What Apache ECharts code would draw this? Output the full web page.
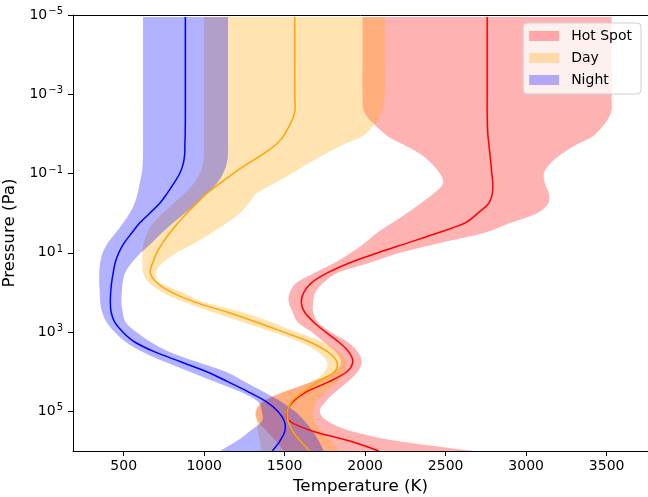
<!DOCTYPE html>
<html><head><meta charset="utf-8">
<script src="https://cdn.jsdelivr.net/npm/echarts@6/dist/echarts.min.js"></script>
<style>html,body{margin:0;padding:0;background:#fff}#c{width:648px;height:497px}</style>
</head><body><div id="c"></div>
<script>
// log10 of pressure (Pa)
const logP = [-4.95,-4,-3,-2.5,-2,-1.75,-1.5,-1.25,-1,-0.75,-0.5,-0.25,0,0.25,0.5,0.75,1,1.25,1.5,1.75,2,2.25,2.5,2.75,3,3.25,3.5,3.75,4,4.25,4.5,4.75,5,5.25,5.5,5.75,6];
// Temperatures (K)
const hotMean  = [2758,2758,2758,2758,2762,2768,2775,2781,2787,2793,2790,2768,2700,2619,2450,2265,2079,1905,1768,1668,1619,1603,1624,1681,1755,1836,1898,1923,1886,1777,1637,1553,1516,1532,1675,1905,2085];
const hotLow   = [1984,1984,1984,2001,2122,2228,2340,2414,2464,2483,2427,2346,2259,2166,2072,1998,1911,1811,1687,1575,1532,1525,1550,1581,1668,1743,1818,1849,1811,1668,1501,1370,1320,1333,1389,1445,1494];
const hotHigh  = [3531,3531,3531,3524,3433,3322,3222,3148,3110,3117,3141,3138,3067,2899,2737,2464,2215,2029,1830,1743,1690,1677,1678,1706,1786,1892,1954,1979,1954,1892,1818,1755,1718,1768,1917,2203,2669];
const dayMean  = [1563,1563,1563,1560,1501,1451,1370,1271,1179,1097,1016,954,892,837,786,742,705,680,665,705,798,947,1146,1327,1494,1656,1768,1824,1811,1706,1619,1544,1516,1522,1550,1597,1656];
const dayLow   = [999,999,999,999,999,999,999,991,972,935,879,811,742,682,646,624,616,616,620,655,742,879,1053,1240,1426,1594,1706,1762,1749,1668,1501,1358,1327,1327,1333,1345,1358];
const dayHigh  = [2122,2122,2122,2097,2004,1874,1755,1644,1544,1432,1327,1277,1221,1140,1047,941,829,742,699,724,867,1000,1240,1420,1575,1737,1842,1880,1874,1830,1755,1699,1675,1687,1724,1787,1842];
const nightMean= [883,883,883,883,882,880,879,870,848,811,770,724,662,599,550,503,469,447,435,425,419,417,422,444,494,568,693,854,1016,1146,1271,1383,1457,1498,1501,1470,1424];
const nightLow = [620,620,620,620,620,620,620,618,612,599,587,568,537,496,450,401,369,354,348,348,351,354,366,394,444,512,618,755,910,1066,1221,1333,1358,1358,1283,1202,1097];
const nightHigh= [1148,1148,1148,1148,1148,1148,1148,1140,1117,1078,1016,954,879,806,736,674,606,550,509,494,488,486,494,512,579,668,786,954,1134,1252,1366,1476,1563,1625,1675,1712,1743];

const xTicks = [500,1000,1500,2000,2500,3000,3500];
const yTicks = [-5,-3,-1,1,3,5];
const names = ['Hot Spot','Day','Night'];

const FONT = 'DejaVu Sans';
const fills = ['rgba(255,0,0,0.3)','rgba(255,165,0,0.3)','rgba(0,0,255,0.3)'];
const lineColors = ['#ff0000','#ffa500','#0000ff'];

// Catmull-Rom curve through pixel points, as SVG path commands
function f(n) { return n.toFixed(2); }
function curve(p, move) {
  let d = (move ? 'M' : 'L') + f(p[0][0]) + ' ' + f(p[0][1]);
  for (let i = 0; i < p.length - 1; i++) {
    const p0 = p[i - 1] || p[i], p1 = p[i], p2 = p[i + 1], p3 = p[i + 2] || p[i + 1];
    const c1x = p1[0] + (p2[0] - p0[0]) / 6, c1y = p1[1] + (p2[1] - p0[1]) / 6;
    const c2x = p2[0] - (p3[0] - p1[0]) / 6, c2y = p2[1] - (p3[1] - p1[1]) / 6;
    d += 'C' + f(c1x) + ' ' + f(c1y) + ' ' + f(c2x) + ' ' + f(c2y) + ' ' + f(p2[0]) + ' ' + f(p2[1]);
  }
  return d;
}
function band(low, high, color) {
  return function (params, api) {
    const L = logP.map((y, i) => api.coord([low[i], y]));
    const R = logP.map((y, i) => api.coord([high[i], y])).reverse();
    return { type: 'path', shape: { pathData: curve(L, true) + curve(R, false) + 'Z' },
      style: { fill: color, stroke: null }, silent: true };
  };
}
function meanLine(t, color) {
  return function (params, api) {
    const P = logP.map((y, i) => api.coord([t[i], y]));
    return { type: 'path', shape: { pathData: curve(P, true) },
      style: { fill: null, stroke: color, lineWidth: 1.5 }, silent: true };
  };
}

const bands = [[hotLow, hotHigh], [dayLow, dayHigh], [nightLow, nightHigh]];
const means = [hotMean, dayMean, nightMean];
const series = [];
names.forEach((n, k) => {
  series.push({ name: n, type: 'custom', coordinateSystem: 'cartesian2d', xAxisIndex: 0, yAxisIndex: 0,
    itemStyle: { color: fills[k] }, data: [[bands[k][0][0], logP[0]]], clip: true,
    renderItem: band(bands[k][0], bands[k][1], fills[k]), z: 2 });
});
names.forEach((n, k) => {
  series.push({ name: n + ' mean', type: 'custom', coordinateSystem: 'cartesian2d', xAxisIndex: 0, yAxisIndex: 0,
    itemStyle: { color: lineColors[k] }, data: [[means[k][0], logP[0]]], clip: true,
    renderItem: meanLine(means[k], lineColors[k]), z: 5 });
});

const chart = echarts.init(document.getElementById('c'), null, { renderer: 'canvas' });
chart.setOption({
  animation: false,
  backgroundColor: '#fff',
  textStyle: { fontFamily: FONT },
  grid: { left: 73, right: 0, top: 15, bottom: 46, containLabel: false, outerBoundsMode: 'none' },
  legend: {
    orient: 'vertical', right: 7, top: 23, itemWidth: 30, itemHeight: 10, itemGap: 8,
    padding: [6, 9, 7, 6], backgroundColor: 'rgba(255,255,255,0.8)', borderColor: '#d0d0d0',
    borderWidth: 1, borderRadius: 4,
    textStyle: { fontSize: 14, color: '#000', fontFamily: FONT, padding: [0, 0, 0, 7] },
    data: names.map((n, k) => ({ name: n, icon: 'rect', itemStyle: { color: fills[k] } }))
  },
  xAxis: [{
    type: 'value', min: 185, max: 3757, position: 'bottom',
    name: 'Temperature (K)', nameLocation: 'middle', nameGap: 25,
    nameTextStyle: { fontSize: 16.7, color: '#000', fontFamily: FONT },
    axisLine: { show: true, onZero: false, lineStyle: { color: '#000', width: 1 } },
    axisTick: { show: true, length: 5, lineStyle: { color: '#000' }, customValues: xTicks },
    axisLabel: { fontSize: 14, color: '#000', margin: 8, fontFamily: FONT, customValues: xTicks, formatter: v => String(v) },
    splitLine: { show: false }
  }, {
    type: 'value', min: 185, max: 3757, position: 'top',
    axisLine: { show: true, onZero: false, lineStyle: { color: '#000', width: 1 } },
    axisTick: { show: false }, axisLabel: { show: false }, splitLine: { show: false }
  }],
  yAxis: {
    type: 'value', min: -5, max: 6, inverse: true,
    name: 'Pressure (Pa)', nameLocation: 'middle', nameGap: 41,
    nameTextStyle: { fontSize: 16.7, color: '#000', fontFamily: FONT },
    axisLine: { show: true, onZero: false, lineStyle: { color: '#000', width: 1 } },
    axisTick: { show: true, length: 5, lineStyle: { color: '#000' }, customValues: yTicks },
    axisLabel: {
      customValues: yTicks, margin: 10, color: '#000',
      formatter: v => '{b|10}{s|' + (v < 0 ? '\u2212' : '') + Math.abs(v) + '}',
      rich: {
        b: { fontSize: 14, fontFamily: FONT, color: '#000' },
        s: { fontSize: 10, fontFamily: FONT, color: '#000', padding: [0, 0, 7, 1] }
      }
    },
    splitLine: { show: false }
  },
  series: series
});
</script></body></html>
